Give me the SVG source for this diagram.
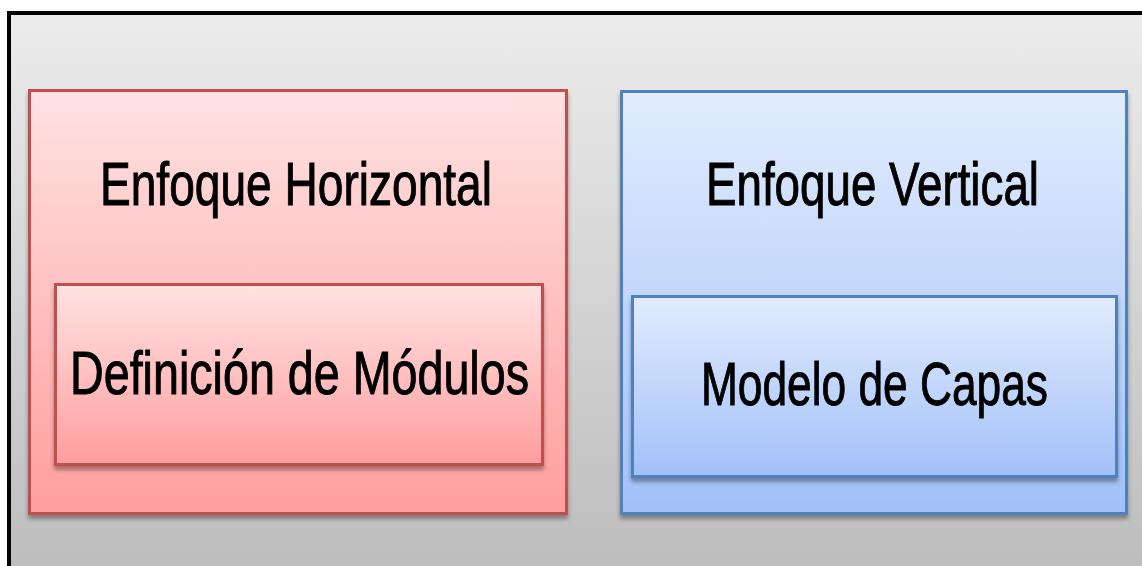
<svg xmlns="http://www.w3.org/2000/svg" width="1142" height="566" viewBox="0 0 1142 566">
<defs>
<linearGradient id="bg" x1="0" y1="0" x2="0" y2="1"><stop offset="0" stop-color="#ececec"/><stop offset="1" stop-color="#bdbdbd"/></linearGradient>
<linearGradient id="red" x1="0" y1="0" x2="0" y2="1"><stop offset="0" stop-color="#ffe2e2"/><stop offset="1" stop-color="#ff9e9e"/></linearGradient>
<linearGradient id="blue" x1="0" y1="0" x2="0" y2="1"><stop offset="0" stop-color="#e2ecfd"/><stop offset="1" stop-color="#a2c0f9"/></linearGradient>
<filter id="sh" x="-5%" y="-5%" width="110%" height="115%"><feDropShadow dx="0" dy="4" stdDeviation="2" flood-color="#000" flood-opacity="0.35"/></filter>
<style>
.r{fill:url(#red);stroke:#c0504d;stroke-width:3;filter:url(#sh)}
.b{fill:url(#blue);stroke:#4f81bd;stroke-width:3;filter:url(#sh)}
.t{font-family:"Liberation Sans",Arial,sans-serif;font-size:62px;fill:#000;stroke:#000;stroke-width:1;text-anchor:start}
</style>
</defs>
<rect x="7" y="11" width="1135" height="555" fill="url(#bg)"/>
<path d="M9 566 V13 H1142" fill="none" stroke="#000" stroke-width="4"/>
<g id="horizontal">
<rect class="r" x="29.5" y="90.5" width="537" height="423"/>
<text class="t" transform="scale(0.8,1)" x="125" y="205" textLength="490" lengthAdjust="spacingAndGlyphs">Enfoque Horizontal</text>
</g>
<g id="modulos">
<rect class="r" x="55.5" y="284.5" width="487" height="180"/>
<text class="t" transform="scale(0.8,1)" x="87.5" y="394" textLength="573.75" lengthAdjust="spacingAndGlyphs">Definición de Módulos</text>
</g>
<g id="vertical">
<rect class="b" x="621.5" y="91.5" width="505" height="422"/>
<text class="t" transform="scale(0.8,1)" x="882.5" y="205" textLength="416.25" lengthAdjust="spacingAndGlyphs">Enfoque Vertical</text>
</g>
<g id="capas">
<rect class="b" x="632.5" y="296.5" width="484" height="180"/>
<text class="t" transform="scale(0.8,1)" x="876.25" y="405" textLength="433.75" lengthAdjust="spacingAndGlyphs">Modelo de Capas</text>
</g>
<g id="connectors"/>
</svg>
